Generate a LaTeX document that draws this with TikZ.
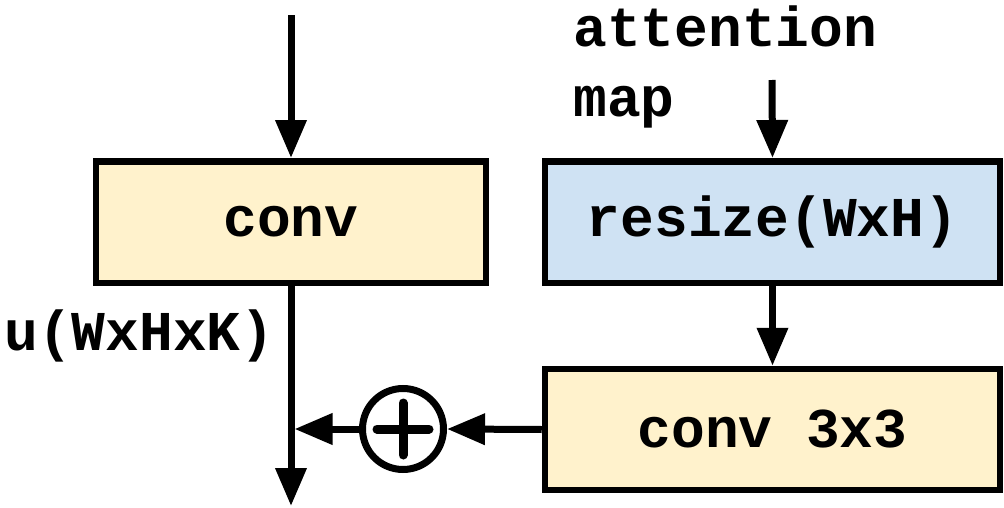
\documentclass[tikz,border=0pt]{standalone}
\usepackage{fontspec}
\setmonofont{Liberation Mono}
\usetikzlibrary{positioning, arrows.meta}

\begin{document}
\begin{tikzpicture}[
  font=\ttfamily\bfseries\fontsize{32}{40}\selectfont,
  >={Triangle[length=0.76cm, width=0.6cm]},
  line width=0.14cm,
  %% Node styles
  block/.style={
    draw, line width=0.13cm, inner sep=0pt, align=center,
    minimum height=2.43cm
  },
  label/.style={inner sep=0pt, align=left},
  sumnode/.style={
    draw, circle, line width=0.14cm, fill=white,
    minimum size=1.62cm, inner sep=0pt
  },
  %% Colors
  convfill/.style={fill=convyellow},
  resizefill/.style={fill=resizeblue},
]
\definecolor{convyellow}{RGB}{255,242,204}
\definecolor{resizeblue}{RGB}{207,226,243}
\useasboundingbox (0,0) rectangle (20.08,-10.16);

%% ── BLOCKS ────────────────────────────────────────────────────────────────
\node[block, convfill, minimum width=7.80cm]   (conv)   at ( 5.82, -4.44) {conv};
\node[block, resizefill, minimum width=9.10cm] (resize) at (15.45, -4.44) {resize(WxH)};
\node[block, convfill, minimum width=9.10cm, minimum height=2.42cm]
                                                (conv33) at (15.45, -8.59) {conv 3x3};

%% ── SUM ───────────────────────────────────────────────────────────────────
\node[sumnode] (sum) at (8.06, -8.58) {};
\draw[line width=0.18cm, line cap=round]
  ([xshift=-0.52cm]sum.center) -- ([xshift=0.52cm]sum.center)
  ([yshift=-0.52cm]sum.center) -- ([yshift=0.52cm]sum.center);

%% ── LABELS ────────────────────────────────────────────────────────────────
\node[label, anchor=base west] (ulabel) at (0.02, -7.0) {u(WxHxK)};
\node[label, anchor=north west] (attn) at (11.40, -0.04) {attention\\map};

%% ── FREE ENDS ─────────────────────────────────────────────────────────────
\coordinate (inp)   at ( 5.82, -0.30);
\coordinate (attin) at (15.44, -1.60);
\coordinate (merge) at ( 5.89, -8.58);
\coordinate (out)   at ( 5.82, -10.12);

%% ── CONNECTORS ────────────────────────────────────────────────────────────
\draw[->] (inp) -- (conv.north);
\draw[->] (attin) -- (resize.north);
\draw[->] (resize.south) -- (conv33.north);
\draw[->] (conv33.west) -- (sum.east);
\draw[->] (sum.west) -- (merge);
\draw[->] (conv.south) -- (out);

\end{tikzpicture}
\end{document}
